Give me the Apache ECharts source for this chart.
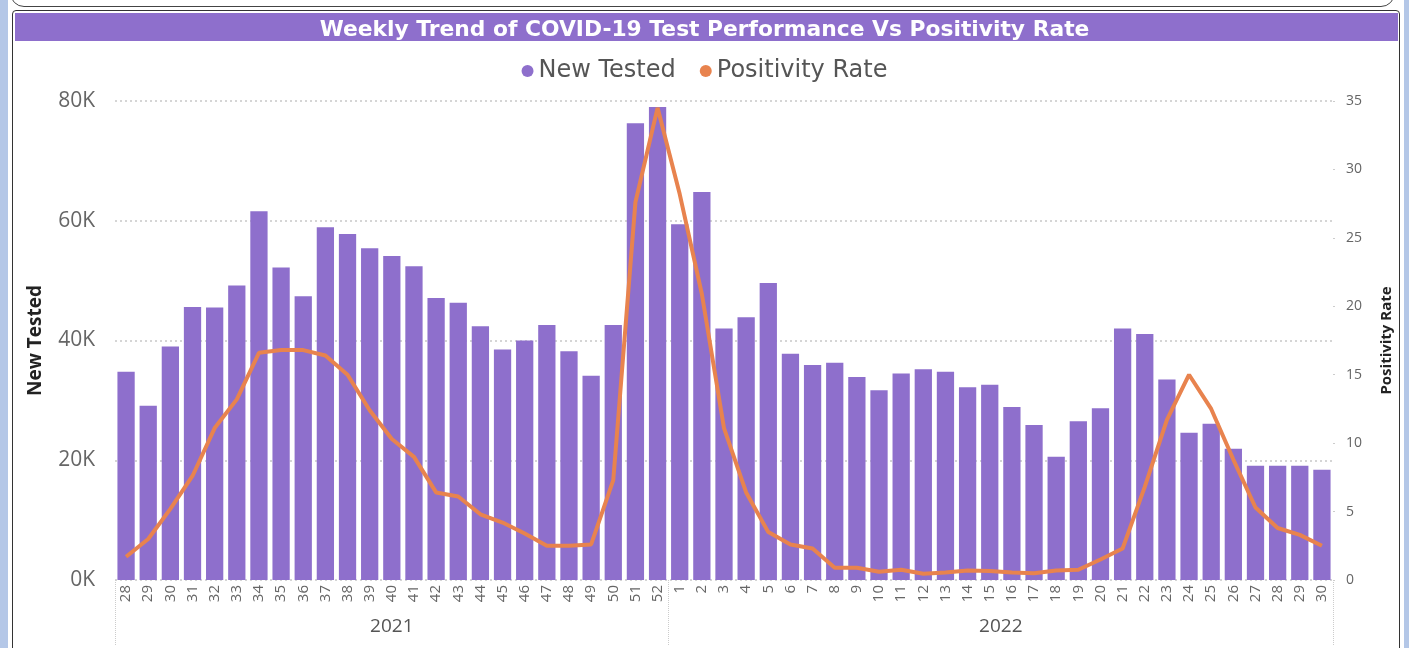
<!DOCTYPE html>
<html>
<head>
<meta charset="utf-8">
<script src="https://cdn.jsdelivr.net/npm/echarts@6/dist/echarts.min.js"></script>
<style>
  html, body { margin: 0; padding: 0; width: 1409px; height: 648px; overflow: hidden; background: #fff; }
  .strip-l { position: absolute; left: 0; top: 0; width: 8px; height: 648px; background: #b4c7e7; }
  .strip-r { position: absolute; left: 1404px; top: 0; width: 5px; height: 648px; background: #b4c7e7; }
  .bubble { position: absolute; left: 10px; top: -22px; width: 1383px; height: 27px; border: 1.5px solid #444; border-radius: 14px; }
  .panel { position: absolute; left: 12px; top: 10px; width: 1386px; height: 660px; border: 1.5px solid #333; border-radius: 4px; }
  #chart { position: absolute; left: 0; top: 0; width: 1409px; height: 648px; }
</style>
</head>
<body>
<div class="strip-l"></div>
<div class="strip-r"></div>
<div class="bubble"></div>
<div class="panel"></div>
<div id="chart"></div>
<script>
// weeks 28-52 of 2021, then 1-30 of 2022
const weeks = [
  "28","29","30","31","32","33","34","35","36","37","38","39","40","41","42","43","44","45","46","47","48","49","50","51","52",
  "1","2","3","4","5","6","7","8","9","10","11","12","13","14","15","16","17","18","19","20","21","22","23","24","25","26","27","28","29","30"
];
const years = ["2021", "2022"];
const yearWeekCounts = [25, 30];

// new tests per week
const newTested = [
  34800, 29100, 39000, 45600, 45500, 49200, 61600, 52200, 47400, 58900, 57800, 55400, 54100, 52400, 47100, 46300, 42400, 38500, 40000, 42600, 38200, 34100, 42600, 76300, 79000,
  59400, 64800, 42000, 43900, 49600, 37800, 35900, 36300, 33900, 31700, 34500, 35200, 34800, 32200, 32600, 28900, 25900, 20600, 26500, 28700, 42000, 41100, 33500, 24600, 26100, 21900, 19100, 19100, 19100, 18400
];

// positivity rate (%)
const positivityRate = [
  1.7, 3.0, 5.2, 7.6, 11.1, 13.2, 16.6, 16.8, 16.8, 16.4, 15.0, 12.4, 10.3, 9.0, 6.4, 6.1, 4.8, 4.2, 3.4, 2.5, 2.5, 2.6, 7.3, 27.6, 34.5,
  28.2, 20.9, 11.1, 6.4, 3.5, 2.6, 2.3, 0.9, 0.9, 0.6, 0.75, 0.45, 0.55, 0.7, 0.65, 0.55, 0.5, 0.7, 0.75, 1.5, 2.3, 6.8, 11.7, 15.0, 12.5, 8.8, 5.3, 3.8, 3.3, 2.5
];

const purple = "#8e6fcc";
const orange = "#e8834e";
const font = "Open Sans";

// year group boundaries and centres on the week axis
const yearBounds = [0];
const yearCentres = [];
yearWeekCounts.forEach((n, i) => {
  yearCentres.push(yearBounds[i] + n / 2);
  yearBounds.push(yearBounds[i] + n);
});

const myChart = echarts.init(document.getElementById("chart"));

const option = {
  animation: false,
  title: {
    text: "Weekly Trend of COVID-19 Test Performance Vs Positivity Rate",
    left: "center",
    top: 12,
    textStyle: { color: "#fff", fontSize: 21.8, fontWeight: "bold", fontFamily: "DejaVu Sans", lineHeight: 26 },
  },
  graphic: [
    { type: "rect", left: 15, top: 13, z: -1, shape: { width: 1383, height: 28 }, style: { fill: purple } },
  ],
  legend: {
    top: 54,
    left: "center",
    itemGap: 24,
    itemWidth: 12,
    itemHeight: 12,
    icon: "circle",
    textStyle: { color: "#555", fontSize: 24, fontFamily: "DejaVu Sans" },
    data: ["New Tested", "Positivity Rate"],
  },
  grid: { left: 115, right: 76, top: 101, bottom: 68 },
  xAxis: [
    {
      type: "category",
      data: weeks,
      axisLine: { show: false },
      axisTick: { show: false },
      axisLabel: { rotate: 90, fontSize: 15, color: "#666", margin: 5, fontFamily: font },
    },
    {
      type: "value",
      min: 0,
      max: yearBounds[yearBounds.length - 1],
      position: "bottom",
      axisLine: { show: false },
      splitLine: { show: false },
      axisTick: {
        show: true,
        customValues: yearBounds,
        length: 66,
        lineStyle: { color: "#ccc", type: "dotted" },
      },
      axisLabel: {
        customValues: yearCentres,
        margin: 37,
        fontSize: 19,
        color: "#555",
        fontFamily: font,
        formatter: (v) => years[yearCentres.indexOf(v)] || "",
      },
    },
  ],
  yAxis: [
    {
      type: "value",
      min: 0,
      max: 80000,
      interval: 20000,
      name: "New Tested",
      nameLocation: "middle",
      nameGap: 70,
      nameTextStyle: { fontSize: 19, fontWeight: "bold", color: "#222", fontFamily: font },
      axisLine: { show: false },
      axisTick: { show: false },
      axisLabel: {
        fontSize: 21,
        color: "#666",
        margin: 20,
        fontFamily: font,
        formatter: (v) => v / 1000 + "K",
      },
      splitLine: { lineStyle: { color: "#c8c8c8", type: [2, 3], width: 1.5 } },
    },
    {
      type: "value",
      min: 0,
      max: 35,
      interval: 5,
      name: "Positivity Rate",
      nameLocation: "middle",
      nameGap: 46,
      nameTextStyle: { fontSize: 15, fontWeight: "bold", color: "#222", fontFamily: font },
      axisLine: { show: false },
      axisTick: { show: true, length: 2, lineStyle: { color: "#ccc" } },
      axisLabel: { fontSize: 14, color: "#666", margin: 13, fontFamily: font },
      splitLine: { show: false },
    },
  ],
  series: [
    {
      name: "New Tested",
      type: "bar",
      data: newTested,
      barCategoryGap: "22%",
      itemStyle: { color: purple },
    },
    {
      name: "Positivity Rate",
      type: "line",
      yAxisIndex: 1,
      data: positivityRate,
      showSymbol: false,
      symbol: "circle",
      lineStyle: { color: orange, width: 4 },
      itemStyle: { color: orange },
    },
  ],
};

myChart.setOption(option);
window.addEventListener("resize", () => {
  myChart.resize();
});
</script>
</body>
</html>
